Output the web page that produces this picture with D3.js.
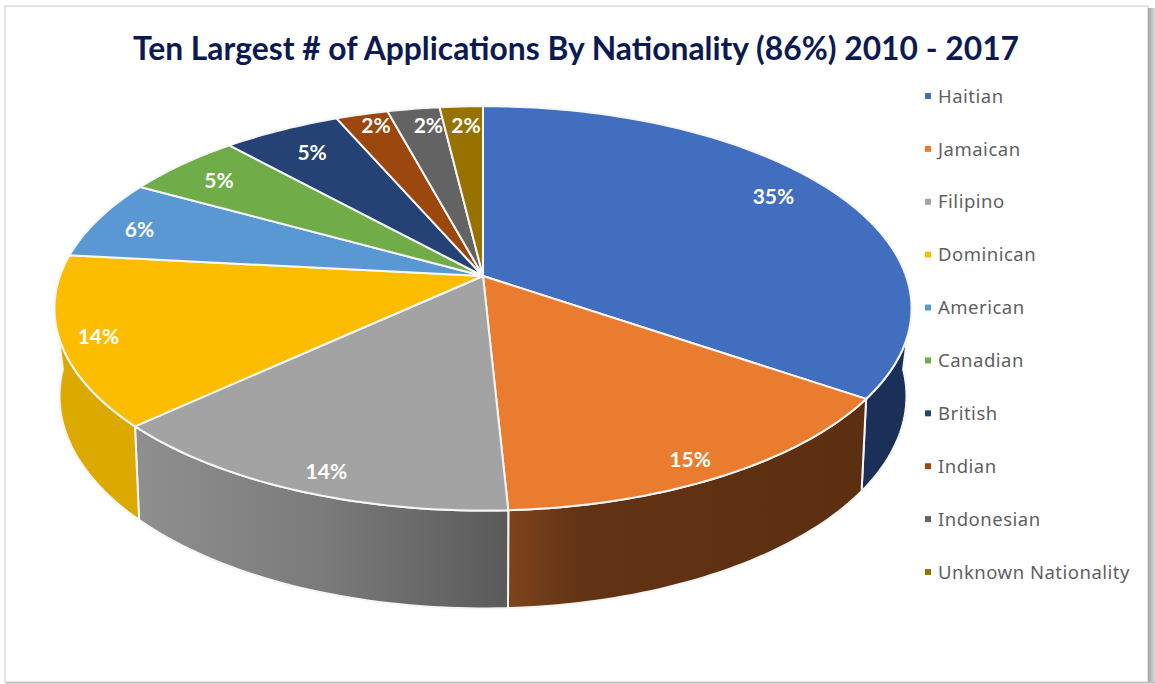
<!DOCTYPE html>
<html>
<head>
<meta charset="utf-8">
<script src="https://cdn.jsdelivr.net/npm/d3@7/dist/d3.min.js"></script>
<style>
  html, body { margin: 0; padding: 0; background: #fff; }
  svg { display: block; }
</style>
</head>
<body>
<svg id="chart" width="1155" height="684"></svg>
<script>
// Share of applications by nationality, percent
const nationalities = ["Haitian", "Jamaican", "Filipino", "Dominican", "American", "Canadian", "British", "Indian", "Indonesian", "Unknown Nationality"];
const shares = [34.6, 14.6, 13.9, 13.6, 6.4, 5.2, 5.2, 2.3, 2.3, 1.9];
const sliceColors = ["#416ebf", "#ea7c30", "#a3a3a3", "#fcbd00", "#5a98d3", "#70ac47", "#244274", "#9b470d", "#636363", "#977200"];
const chartTitle = "Ten Largest # of Applications By Nationality (86%) 2010 - 2017";

// Polar placement of each percentage label on the disc:
// radius as a fraction of the disc radius, angle as degrees off the slice's middle
const labelRadii = [0.85, 0.915, 0.915, 0.915, 0.88, 0.855, 0.83, 0.915, 0.885, 0.875];
const labelTurns = [-2.6, 1.4, -1.7, -0.4, -1.3, -0.8, 0, 0.9, 1.4, 0.4];

// Shading along the outer wall of the front-facing slices, left to right
const wallStops = {
  Haitian: [[0, "#1a3058"], [1, "#1a3058"]],
  Jamaican: [[0, "#7e441c"], [0.2, "#623314"], [1, "#5c2f10"]],
  Filipino: [[0, "#8f8f8f"], [0.5, "#7b7b7b"], [1, "#5a5a5a"]],
  Dominican: [[0, "#dca900"], [1, "#dca900"]]
};

const svg = d3.select("#chart");
const defs = svg.append("defs");

// Card frame with its soft drop shadow
const shadow = defs.append("linearGradient").attr("id", "edge-right");
shadow.append("stop").attr("offset", 0).attr("stop-color", "#a4a4a4");
shadow.append("stop").attr("offset", 1).attr("stop-color", "#d8d8d8");
const shadowB = defs.append("linearGradient").attr("id", "edge-bottom").attr("x2", 0).attr("y2", 1);
shadowB.append("stop").attr("offset", 0).attr("stop-color", "#b4b4b4");
shadowB.append("stop").attr("offset", 1).attr("stop-color", "#e2e2e2");
svg.append("rect").attr("x", 5).attr("y", 6).attr("width", 1143).attr("height", 676)
  .attr("fill", "#fff").attr("stroke", "#dcdcdc").attr("stroke-width", 1.5);
svg.append("rect").attr("x", 1148).attr("y", 8).attr("width", 7).attr("height", 676).attr("fill", "url(#edge-right)");
svg.append("rect").attr("x", 6).attr("y", 682).attr("width", 1149).attr("height", 2).attr("fill", "url(#edge-bottom)");

svg.append("text")
  .attr("x", 576).attr("y", 59.5)
  .attr("text-anchor", "middle")
  .attr("font-family", "Lato, 'Open Sans', sans-serif")
  .attr("font-weight", 700)
  .attr("font-size", 31.8)
  .attr("fill", "#0c1a52")
  .text(chartTitle);

// Perspective projection of a tilted disc: the far side shrinks by `persp`
const topPlane = { cx: 483, cy: 276, rx: 423, ry: 197, persp: 0.16 };
const basePlane = { cx: 483, cy: 362, rx: 418, ry: 207, persp: 0.16 };
function project(plane, angle, r = 1) {
  const u = Math.sin(angle) * r, v = Math.cos(angle) * r;
  const w = 1 + plane.persp * v;
  return [plane.cx + plane.rx * u / w, plane.cy - plane.ry * v / w];
}

const pie = d3.pie().sort(null).value(d => d);
const arcs = pie(shares);
const line = d3.line();

function rim(plane, a0, a1) {
  const steps = Math.max(2, Math.ceil((a1 - a0) / 0.02));
  return d3.range(steps + 1).map(i => project(plane, a0 + (a1 - a0) * i / steps));
}

const rad = d3.scaleLinear().domain([0, 180]).range([0, Math.PI]);
// Where the wall's silhouette leaves the top rim and meets the base rim, on each side
const wallTop = [rad(107), rad(253)];
const wallBase = [rad(92), rad(268)];

// Outer walls, drawn only along the side of the pie facing the viewer
const walls = svg.append("g");
arcs.forEach((d, i) => {
  const name = nationalities[i];
  if (!wallStops[name]) return;
  const top = rim(topPlane, Math.max(d.startAngle, wallTop[0]), Math.min(d.endAngle, wallTop[1]));
  const base = rim(basePlane, Math.max(d.startAngle, wallBase[0]), Math.min(d.endAngle, wallBase[1]));
  const xs = top.concat(base).map(p => p[0]);
  const grad = defs.append("linearGradient")
    .attr("id", "wall-" + i)
    .attr("gradientUnits", "userSpaceOnUse")
    .attr("x1", d3.min(xs)).attr("x2", d3.max(xs)).attr("y1", 0).attr("y2", 0);
  wallStops[name].forEach(s => grad.append("stop").attr("offset", s[0]).attr("stop-color", s[1]));
  walls.append("path")
    .attr("d", line(top.concat(base.reverse())) + "Z")
    .attr("fill", `url(#wall-${i})`)
    .attr("stroke", "#f6f6f6")
    .attr("stroke-width", 2)
    .attr("stroke-linejoin", "round");
});

// Top face of each slice
const apex = project(topPlane, 0, 0);
svg.append("g").selectAll("path")
  .data(arcs)
  .join("path")
  .attr("d", d => line([apex, ...rim(topPlane, d.startAngle, d.endAngle)]) + "Z")
  .attr("fill", (d, i) => sliceColors[i])
  .attr("stroke", "#f6f6f6")
  .attr("stroke-width", 2)
  .attr("stroke-linejoin", "round");

// Percentage labels, placed around each slice's middle angle
svg.append("g").selectAll("text")
  .data(arcs)
  .join("text")
  .attr("transform", (d, i) => {
    const p = project(topPlane, (d.startAngle + d.endAngle) / 2 + rad(labelTurns[i]), labelRadii[i]);
    return `translate(${p[0]},${p[1]})`;
  })
  .attr("text-anchor", "middle")
  .attr("dy", "0.36em")
  .attr("font-family", "Lato, 'Open Sans', sans-serif")
  .attr("font-weight", 700)
  .attr("font-size", 21)
  .attr("fill", "#fff")
  .text(d => Math.round(d.value) + "%");

// Legend down the right side
const legendY = d3.scalePoint().domain(nationalities).range([96, 572]);
const legend = svg.append("g").selectAll("g")
  .data(nationalities)
  .join("g")
  .attr("transform", d => `translate(925,${legendY(d)})`);
legend.append("rect")
  .attr("x", 0).attr("y", -3).attr("width", 6).attr("height", 6)
  .attr("fill", (d, i) => sliceColors[i]);
legend.append("text")
  .attr("x", 13).attr("dy", "0.36em")
  .attr("font-family", "'Noto Sans', sans-serif")
  .attr("font-size", 18.5)
  .attr("letter-spacing", 0.5)
  .attr("fill", "#5f5f5f")
  .text(d => d);
</script>
</body>
</html>
